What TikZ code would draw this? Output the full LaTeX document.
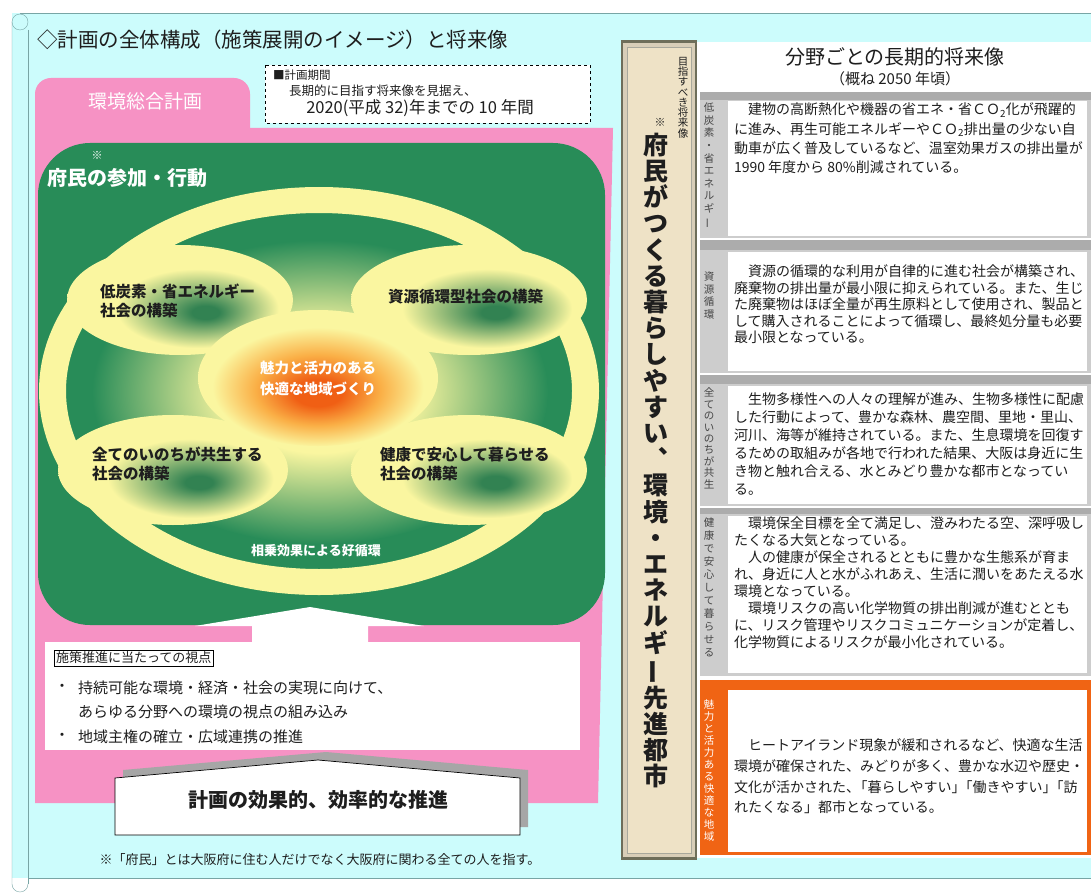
\documentclass[tikz,border=0pt]{standalone}
\usepackage{fontspec}
\setmainfont{Noto Sans CJK JP}
\definecolor{cyanbg}{RGB}{204,252,252}
\definecolor{scrollc}{RGB}{120,165,165}
\definecolor{pinkc}{RGB}{246,146,196}
\definecolor{greenc}{RGB}{40,140,88}
\definecolor{ylw}{RGB}{250,246,160}
\definecolor{orng}{RGB}{240,100,20}
\definecolor{greyc}{RGB}{205,205,205}
\definecolor{greyd}{RGB}{172,172,172}
\definecolor{beige}{RGB}{238,226,198}
\definecolor{framec}{RGB}{110,110,90}
\definecolor{txt}{RGB}{30,30,30}
\definecolor{lbl}{RGB}{70,70,70}
\definecolor{gcen}{RGB}{50,130,82}
\definecolor{ocen}{RGB}{240,95,20}
\definecolor{omid}{RGB}{250,175,70}
\pgfdeclareradialshading{subell}{\pgfpoint{6bp}{-6bp}}{color(0bp)=(gcen); color(3bp)=(gcen); color(18bp)=(ylw); color(50bp)=(ylw)}
\pgfdeclareradialshading{centell}{\pgfpoint{0bp}{-6bp}}{color(0bp)=(ocen); color(5bp)=(ocen); color(13bp)=(omid); color(22bp)=(ylw); color(50bp)=(ylw)}
\pgfdeclareradialshading{blob}{\pgfpoint{0bp}{0bp}}{color(0bp)=(ylw); color(10bp)=(ylw); color(25bp)=(greenc); color(50bp)=(greenc)}
\newcommand{\vbar}{\rotatebox[origin=c]{90}{ー}}
\newcommand{\fs}[2]{\fontsize{#1}{#2}\selectfont}
\begin{document}
\begin{tikzpicture}[x=1pt,y=-1pt,
  every node/.style={inner sep=0pt, outer sep=0pt, text=txt},
  ellabel/.style={anchor=north west, align=left, font=\fs{15.5}{19}\bfseries},
  bodytext/.style={anchor=north west, align=left},
  vlabel/.style={anchor=north, align=center, text=lbl},
  secgrey/.style={fill=greyc},
  sechead/.style={fill=greyd}]
\useasboundingbox (0,0) rectangle (1091,893);
\fill[white] (0,0) rectangle (1091,893);
% scroll background
\fill[cyanbg] (12,13) rectangle (1091,878);
\draw[scrollc] (20,13) -- (1091,13);
\draw[scrollc] (28,30) -- (28,884);
\draw[scrollc] (28,878) -- (1091,878);
\draw[scrollc] (12,22) -- (12,884) arc (180:360:8pt);
\draw[scrollc] (20,22) circle[radius=8pt];
% title
\node[anchor=west, font=\fs{20.5}{24}] (title) at (37,40) {◇計画の全体構成（施策展開のイメージ）と将来像};
% pink plan area
\fill[pinkc, rounded corners=16pt] (35,130) -- (35,78) -- (250,78) -- (250,130);
\fill[pinkc] (35,128) -- (613,128) -- (598,803) -- (35,803) -- cycle;
\node[text=white, font=\fs{19}{22}] (plan) at (145,101) {環境総合計画};
% period box
\draw[dashed, fill=white, line width=0.7pt] (265,65) rectangle (590,123);
\node[anchor=west, font=\fs{11.5}{13}] (per1) at (273,75) {■計画期間};
\node[anchor=west, font=\fs{12.5}{14}] (per2) at (289,91) {長期的に目指す将来像を見据え、};
\node[font=\fs{16.5}{19}] (per3) at (420,108) {2020(平成 32)年までの 10 年間};
% green area
\fill[greenc, rounded corners=52pt] (38,143) rectangle (605,625);
\fill[white] (252,645) -- (252,626) -- (195,626) -- (310,607) -- (424,626) -- (368,626) -- (368,645) -- cycle;
\node[text=white, font=\fs{11}{12}] (kome1) at (97,155) {※};
\node[anchor=west, text=white, font=\fs{20}{24}\bfseries] (sanka) at (47,178) {府民の参加・行動};
% gradient and ring
\shade[shading=blob] (320,392) ellipse[x radius=228pt, y radius=152pt];
\fill[ylw, even odd rule] (319,391) ellipse[x radius=280pt, y radius=204pt] (319,391) ellipse[x radius=253pt, y radius=178pt];
\shade[shading=subell] (180,300) ellipse[x radius=113pt, y radius=55pt];
\shade[shading=subell] (469,300) ellipse[x radius=118pt, y radius=55pt];
\shade[shading=subell] (173,470) ellipse[x radius=115pt, y radius=55pt];
\shade[shading=subell] (469,470) ellipse[x radius=118pt, y radius=55pt];
\shade[shading=centell] (318,378) ellipse[x radius=120pt, y radius=68pt];
\node[ellabel] (e1) at (100,284) {低炭素・省エネルギー\\社会の構築};
\node[ellabel] (e2) at (388,289) {資源循環型社会の構築};
\node[ellabel] (e3) at (92,447) {全てのいのちが共生する\\社会の構築};
\node[ellabel] (e4) at (380,447) {健康で安心して暮らせる\\社会の構築};
\node[align=center, text=white, font=\fs{14.5}{21}\bfseries] (ec) at (318,378) {魅力と活力のある\\快適な地域づくり};
\node[text=white, font=\fs{13}{15}\bfseries] (kojun) at (316,551) {相乗効果による好循環};
% viewpoint box
\fill[white] (45,642) rectangle (580,750);
\node[draw, line width=0.8pt, inner sep=2pt, anchor=west, font=\fs{13}{15}] (shiten) at (54,658) {施策推進に当たっての視点};
\node[font=\fs{15}{17}] (b1) at (62,688) {・};
\node[anchor=west, font=\fs{15}{17}] (t1) at (78,688) {持続可能な環境・経済・社会の実現に向けて、};
\node[anchor=west, font=\fs{15}{17}] (t2) at (78,712) {あらゆる分野への環境の視点の組み込み};
\node[font=\fs{15}{17}] (b3) at (62,737) {・};
\node[anchor=west, font=\fs{15}{17}] (t3) at (78,737) {地域主権の確立・広域連携の推進};
% promotion box
\fill[gray!70] (123,827) -- (123,770) -- (326,752) -- (528,770) -- (528,827) -- cycle;
\draw[fill=white, line width=0.7pt] (115,835) -- (115,778) -- (318,760) -- (520,778) -- (520,835) -- cycle;
\node[font=\fs{20}{24}\bfseries] (suishin) at (318,800) {計画の効果的、効率的な推進};
\node[font=\fs{13}{15}] (foot) at (320,860) {※「府民」とは大阪府に住む人だけでなく大阪府に関わる全ての人を指す。};
% banner
\fill[framec] (621,40) rectangle (697,860);
\fill[beige!80!gray] (623,43) rectangle (695,857);
\fill[beige] (627,47) rectangle (691,853);
\draw[framec!60, line width=0.6pt] (627,47) rectangle (691,853);
\node[vlabel, text=txt, font=\fs{10.5}{10.3}] (mezasu) at (683,57) {目\\指\\す\\べ\\き\\将\\来\\像};
\node[font=\fs{11}{12}] (kome2) at (660,122) {※};
\node[anchor=north, align=center, font=\fs{25}{26.2}\bfseries] (vision) at (656,133) {府\\民\\が\\つ\\く\\る\\暮\\ら\\し\\や\\す\\い\\︑\\環\\境\\・\\エ\\ネ\\ル\\ギ\\\vbar\\先\\進\\都\\市};
% right panel
\fill[white] (697,42) rectangle (1091,858);
\node[font=\fs{20}{24}] (rtitle) at (895,57) {分野ごとの長期的将来像};
\node[font=\fs{15}{18}] (rsub) at (895,79) {（概ね 2050 年頃）};
% section 1
\fill[secgrey] (700,92) rectangle (1091,238);
\fill[sechead] (700,92) rectangle (1091,100);
\fill[white] (728,101) rectangle (1087,236);
\node[vlabel, font=\fs{10.5}{12.6}] (l1) at (709,103) {低\\炭\\素\\・\\省\\エ\\ネ\\ル\\ギ\\\vbar};
\node[bodytext, font=\fs{14}{19.3}] (s1) at (734,103) {　建物の高断熱化や機器の省エネ・省ＣＯ\textsubscript{2}化が飛躍的\\に進み、再生可能エネルギーやＣＯ\textsubscript{2}排出量の少ない自\\動車が広く普及しているなど、温室効果ガスの排出量が\\1990 年度から 80\%削減されている。};
% section 2
\fill[secgrey] (700,240) rectangle (1091,373);
\fill[sechead] (700,240) rectangle (1091,250);
\fill[white] (728,252) rectangle (1087,371);
\node[vlabel, font=\fs{10.5}{12.5}] (l2) at (709,272) {資\\源\\循\\環};
\node[bodytext, font=\fs{14}{16.5}] (s2) at (734,265) {　資源の循環的な利用が自律的に進む社会が構築され、\\廃棄物の排出量が最小限に抑えられている。また、生じ\\た廃棄物はほぼ全量が再生原料として使用され、製品と\\して購入されることによって循環し、最終処分量も必要\\最小限となっている。};
% section 3
\fill[secgrey] (700,375) rectangle (1091,506);
\fill[sechead] (700,375) rectangle (1091,384);
\fill[white] (728,386) rectangle (1087,504);
\node[vlabel, font=\fs{10.5}{11.4}] (l3) at (709,388) {全\\て\\の\\い\\の\\ち\\が\\共\\生};
\node[bodytext, font=\fs{14}{18}] (s3) at (734,393) {　生物多様性への人々の理解が進み、生物多様性に配慮\\した行動によって、豊かな森林、農空間、里地・里山、\\河川、海等が維持されている。また、生息環境を回復す\\るための取組みが各地で行われた結果、大阪は身近に生\\き物と触れ合える、水とみどり豊かな都市となってい\\る。};
% section 4
\fill[secgrey] (700,508) rectangle (1091,676);
\fill[sechead] (700,508) rectangle (1091,514);
\fill[white] (728,516) rectangle (1087,673);
\node[vlabel, font=\fs{10.5}{13}] (l4) at (709,518) {健\\康\\で\\安\\心\\し\\て\\暮\\ら\\せ\\る};
\node[bodytext, font=\fs{14}{17}] (s4) at (734,517) {　環境保全目標を全て満足し、澄みわたる空、深呼吸し\\たくなる大気となっている。\\　人の健康が保全されるとともに豊かな生態系が育ま\\れ、身近に人と水がふれあえ、生活に潤いをあたえる水\\環境となっている。\\　環境リスクの高い化学物質の排出削減が進むととも\\に、リスク管理やリスクコミュニケーションが定着し、\\化学物質によるリスクが最小化されている。};
% section 5
\fill[orng] (700,680) rectangle (1091,855);
\fill[white] (728,690) rectangle (1087,852);
\node[vlabel, text=white, font=\fs{10.5}{12}] (l5) at (709,700) {魅\\力\\と\\活\\力\\あ\\る\\快\\適\\な\\地\\域};
\node[bodytext, font=\fs{14}{20.7}] (s5) at (734,739) {　ヒートアイランド現象が緩和されるなど、快適な生活\\環境が確保された、みどりが多く、豊かな水辺や歴史・\\文化が活かされた、\kern-0.45em「暮らしやすい」\kern-0.5em「働きやすい」\kern-0.5em「訪\\れたくなる」都市となっている。};
\end{tikzpicture}
\end{document}
